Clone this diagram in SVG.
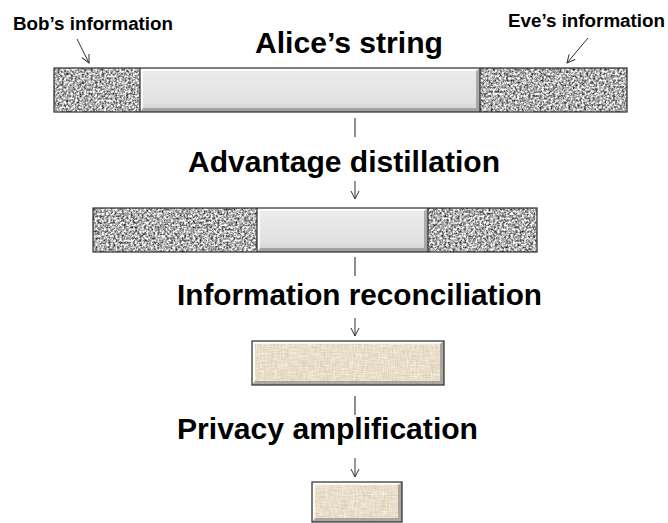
<svg xmlns="http://www.w3.org/2000/svg" width="668" height="523" viewBox="0 0 668 523">
  <style>
    .title { font-family: "Liberation Sans", Arial, sans-serif; font-weight: bold; font-size: 30px; fill: #000; }
    .note { font-family: "Liberation Sans", Arial, sans-serif; font-weight: bold; font-size: 18.7px; fill: #000; }
    .edge { fill: none; stroke: #2b2b2b; stroke-width: 1.2; }
    .hi { fill: #ffffff; opacity: 0.85; }
    .lo { fill: #7a7a7a; opacity: 0.55; }
    .pipe { stroke: #707070; stroke-width: 1.6; }
    .arrow { stroke: #333; stroke-width: 1; fill: none; marker-end: url(#vhead); }
  </style>
  <defs>
    <!-- grey speckled stone fill -->
    <filter id="granite" x="0" y="0" width="1" height="1" color-interpolation-filters="sRGB">
      <feTurbulence type="fractalNoise" baseFrequency="0.45" numOctaves="4" seed="2"/>
      <feColorMatrix type="matrix" values="1.55 0 0 0 -0.09  1.55 0 0 0 -0.09  1.55 0 0 0 -0.09  0 0 0 0 1"/>
    </filter>
    <!-- woven beige linen fill -->
    <filter id="linen" x="0" y="0" width="1" height="1" color-interpolation-filters="sRGB">
      <feTurbulence type="fractalNoise" baseFrequency="0.9 0.1" numOctaves="2" seed="5" result="h"/>
      <feTurbulence type="fractalNoise" baseFrequency="0.1 0.9" numOctaves="2" seed="9" result="v"/>
      <feComposite in="h" in2="v" operator="arithmetic" k2="0.5" k3="0.5"/>
      <feColorMatrix type="matrix" values="0.28 0 0 0 0.77  0.28 0 0 0 0.73  0.28 0 0 0 0.65  0 0 0 0 1"/>
    </filter>
    <linearGradient id="plain" x1="0" y1="0" x2="0" y2="1">
      <stop offset="0" stop-color="#ececec"/>
      <stop offset="0.75" stop-color="#e2e2e2"/>
      <stop offset="1" stop-color="#cfcfcf"/>
    </linearGradient>
    <marker id="vhead" viewBox="-10 -6 12 12" markerWidth="12" markerHeight="12" markerUnits="userSpaceOnUse" refX="0" refY="0" orient="auto" overflow="visible">
      <path d="M-8,-4 L0,0 L-8,4" fill="none" stroke="#333" stroke-width="1"/>
    </marker>
  </defs>

  <rect width="668" height="523" fill="#ffffff"/>

  <!-- stage labels -->
  <g id="label-alice"><text class="title" x="255" y="53" textLength="188" lengthAdjust="spacingAndGlyphs">Alice’s string</text></g>
  <g id="label-distillation"><text class="title" x="188" y="172" textLength="312" lengthAdjust="spacingAndGlyphs">Advantage distillation</text></g>
  <g id="label-reconciliation"><text class="title" x="177" y="305" textLength="365" lengthAdjust="spacingAndGlyphs">Information reconciliation</text></g>
  <g id="label-privacy"><text class="title" x="177" y="439" textLength="301" lengthAdjust="spacingAndGlyphs">Privacy amplification</text></g>
  <g id="label-bob"><text class="note" x="13" y="30" textLength="160" lengthAdjust="spacingAndGlyphs">Bob’s information</text></g>
  <g id="label-eve"><text class="note" x="508" y="27" textLength="157" lengthAdjust="spacingAndGlyphs">Eve’s information</text></g>

  <!-- raw string: Bob part | secret part | Eve part -->
  <g id="bar-alice">
    <rect x="54" y="68" width="86" height="44" filter="url(#granite)"/>
    <rect x="480" y="68" width="147" height="44" filter="url(#granite)"/>
    <rect x="140" y="68" width="340" height="44" fill="url(#plain)"/>
    <path class="hi" d="M140,68 H480 L477,71 H143 Z M140,68 L143,71 V109 L140,112 Z"/>
    <path class="lo" d="M140,112 L143,108 H476 L480,112 Z M480,68 V112 L476,108 V71 Z"/>
    <rect class="edge" x="54" y="68" width="573" height="44"/>
    <line class="edge" x1="140" y1="68" x2="140" y2="112"/>
    <line class="edge" x1="480" y1="68" x2="480" y2="112"/>
  </g>

  <!-- after advantage distillation -->
  <g id="bar-distilled">
    <rect x="93" y="208" width="164" height="44" filter="url(#granite)"/>
    <rect x="428" y="208" width="109" height="44" filter="url(#granite)"/>
    <rect x="257" y="208" width="171" height="44" fill="url(#plain)"/>
    <path class="hi" d="M257,208 H428 L425,211 H260 Z M257,208 L260,211 V249 L257,252 Z"/>
    <path class="lo" d="M257,252 L260,248 H424 L428,252 Z M428,208 V252 L424,248 V211 Z"/>
    <rect class="edge" x="93" y="208" width="444" height="44"/>
    <line class="edge" x1="257" y1="208" x2="257" y2="252"/>
    <line class="edge" x1="428" y1="208" x2="428" y2="252"/>
  </g>

  <!-- reconciled string -->
  <g id="box-reconciled">
    <rect x="252" y="341" width="192" height="44" filter="url(#linen)"/>
    <path class="hi" d="M252,341 H444 L441,344 H255 Z M252,341 L255,344 V382 L252,385 Z"/>
    <path class="lo" d="M252,385 L255,381 H440 L444,385 Z M444,341 V385 L440,381 V344 Z"/>
    <rect class="edge" x="252" y="341" width="192" height="44"/>
  </g>

  <!-- final secret key -->
  <g id="box-final">
    <rect x="312" y="482" width="90" height="40" filter="url(#linen)"/>
    <path class="hi" d="M312,482 H402 L399,485 H315 Z M312,482 L315,485 V519 L312,522 Z"/>
    <path class="lo" d="M312,522 L315,518 H398 L402,522 Z M402,482 V522 L398,518 V485 Z"/>
    <rect class="edge" x="312" y="482" width="90" height="40"/>
  </g>

  <g id="connectors">
    <line class="pipe" x1="355" y1="118" x2="355" y2="137"/>
    <line class="arrow" x1="355" y1="181" x2="355" y2="199"/>
    <line class="pipe" x1="355" y1="257" x2="355" y2="276"/>
    <line class="arrow" x1="355" y1="318" x2="355" y2="336"/>
    <line class="pipe" x1="355" y1="396" x2="355" y2="415"/>
    <line class="arrow" x1="355" y1="458" x2="355" y2="477"/>
    <line class="arrow" x1="77" y1="39" x2="89" y2="63"/>
    <line class="arrow" x1="588" y1="38" x2="567" y2="63"/>
  </g>
</svg>
